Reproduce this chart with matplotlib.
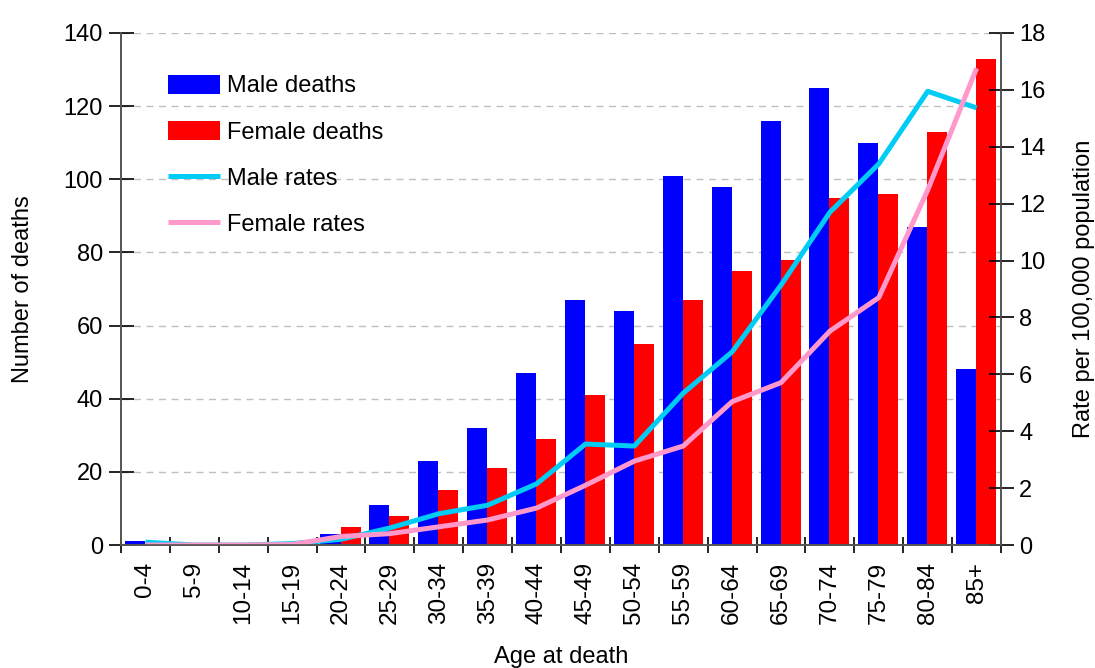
import matplotlib
matplotlib.use("Agg")
import matplotlib.pyplot as plt
import numpy as np
from matplotlib.ticker import FixedLocator, NullFormatter, FixedFormatter

plt.rcParams['font.family'] = ['Liberation Sans', 'DejaVu Sans']

age_groups = ['0-4', '5-9', '10-14', '15-19', '20-24', '25-29', '30-34', '35-39', '40-44',
              '45-49', '50-54', '55-59', '60-64', '65-69', '70-74', '75-79', '80-84', '85+']
male_deaths = [1, 0, 0, 0, 3, 11, 23, 32, 47, 67, 64, 101, 98, 116, 125, 110, 87, 48]
female_deaths = [0, 0, 0, 0, 5, 8, 15, 21, 29, 41, 55, 67, 75, 78, 95, 96, 113, 133]
male_rates = [0.1, 0.0, 0.0, 0.05, 0.2, 0.6, 1.1, 1.4, 2.15, 3.55, 3.48, 5.34, 6.79, 9.14,
              11.7, 13.4, 15.95, 15.37]
female_rates = [0.0, 0.0, 0.0, 0.02, 0.3, 0.4, 0.64, 0.88, 1.3, 2.1, 2.95, 3.48, 5.04, 5.71,
                7.52, 8.7, 12.48, 16.76]

x = np.arange(len(age_groups))
bar_w = 0.41

fig = plt.figure(figsize=(10.95, 6.68), dpi=100)
ax = fig.add_axes([0.1105, 0.1841, 0.8037, 0.7665])
ax2 = ax.twinx()

ax.bar(x - 0.215, male_deaths, bar_w, color='#0000ff', label='Male deaths', zorder=2)
ax.bar(x + 0.195, female_deaths, bar_w, color='#ff0000', label='Female deaths', zorder=2)
ax2.plot(x, male_rates, color='#00ccf5', lw=3.6, label='Male rates', solid_capstyle='butt')
ax2.plot(x, female_rates, color='#ff99cc', lw=3.6, label='Female rates', solid_capstyle='butt')

ax.set_xlim(-0.5, len(age_groups) - 0.5)
ax.set_ylim(0, 140)
ax2.set_ylim(0, 18)
ax.set_yticks(np.arange(0, 141, 20))
ax2.set_yticks(np.arange(0, 19, 2))

# ticks sit between groups, labels in the middle of each group
ax.xaxis.set_major_locator(FixedLocator(np.arange(-0.5, len(age_groups), 1)))
ax.xaxis.set_major_formatter(NullFormatter())
ax.xaxis.set_minor_locator(FixedLocator(x))
ax.xaxis.set_minor_formatter(FixedFormatter(age_groups))
ax.tick_params(axis='x', which='minor', length=0, labelsize=17.5, rotation=90, pad=12)
ax.tick_params(axis='x', which='major', direction='inout', length=12, width=1.2)
ax.tick_params(axis='y', direction='inout', length=18, width=1.2, labelsize=17, pad=4)
ax2.tick_params(axis='y', direction='inout', length=18, width=1.2, labelsize=17, pad=4)

ax.yaxis.grid(True, color='#c0c0c0', linestyle=(0, (5, 4)), lw=1)
ax.set_axisbelow(True)

for a in (ax, ax2):
    a.spines['top'].set_visible(False)
    for s in ('left', 'right', 'bottom'):
        a.spines[s].set_color('#555555')
        a.spines[s].set_linewidth(1.2)

ax.set_xlabel('Age at death', fontsize=17, labelpad=16)
ax.set_ylabel('Number of deaths', fontsize=17, labelpad=21)
ax2.set_ylabel('Rate per 100,000 population', fontsize=17, labelpad=20)

h1, l1 = ax.get_legend_handles_labels()
h2, l2 = ax2.get_legend_handles_labels()
ax2.legend(h1 + h2, l1 + l2, loc='upper left', bbox_to_anchor=(0.029, 0.96),
           frameon=False, fontsize=17, handlelength=2.2, handleheight=0.85,
           handletextpad=0.3, labelspacing=1.0)

fig.savefig('out.png', dpi=100)
